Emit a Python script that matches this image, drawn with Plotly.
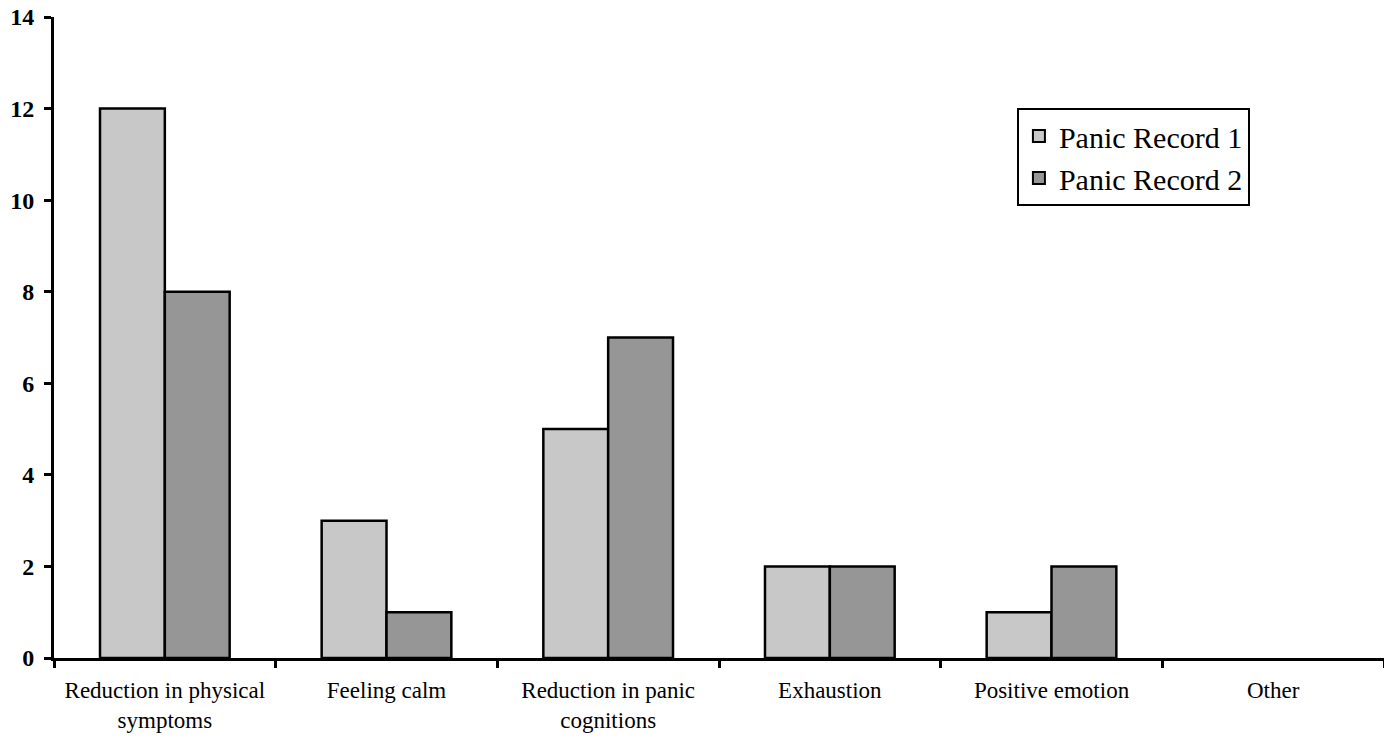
import plotly.graph_objects as go

categories = ["Reduction in physical<br>symptoms", "Feeling calm", "Reduction in panic<br>cognitions",
              "Exhaustion", "Positive emotion", "Other"]
record1 = [12, 3, 5, 2, 1, 0]
record2 = [8, 1, 7, 2, 2, 0]
yticks = [0, 2, 4, 6, 8, 10, 12, 14]

edge_widths = [2.5 if v > 0 else 0 for v in record1]
edge_widths2 = [2.5 if v > 0 else 0 for v in record2]

fig = go.Figure()
fig.add_trace(go.Bar(x=categories, y=record1, name="Panic Record 1",
                     marker=dict(color="#c8c8c8", line=dict(color="black", width=edge_widths))))
fig.add_trace(go.Bar(x=categories, y=record2, name="Panic Record 2",
                     marker=dict(color="#969696", line=dict(color="black", width=edge_widths2))))

fig.update_layout(
    width=1384, height=738,
    margin=dict(l=54, r=0, t=17, b=80),
    paper_bgcolor="white", plot_bgcolor="white",
    barmode="group", bargap=0.415, bargroupgap=0,
    font=dict(family="Liberation Serif", color="black"),
    legend=dict(x=0.724, y=0.858, xanchor="left", yanchor="top",
                bordercolor="black", borderwidth=2, bgcolor="white",
                font=dict(size=30, family="Liberation Serif"),
                tracegroupgap=0, itemsizing="constant"),
    showlegend=True,
)
fig.update_xaxes(showline=True, linecolor="black", linewidth=3, automargin=False,
                 ticks="outside", tickson="boundaries", ticklen=7, tickwidth=3, tickcolor="black",
                 ticklabelstandoff=9, ticklabeloverflow="allow",
                 tickfont=dict(size=23, family="Liberation Serif"), showgrid=False)
fig.update_yaxes(range=[0, 14], tickvals=yticks, showline=True, linecolor="black", linewidth=3,
                 automargin=False, ticklabelstandoff=5, ticklabeloverflow="allow",
                 ticks="outside", ticklen=7, tickwidth=3, tickcolor="black",
                 tickfont=dict(size=24, family="Liberation Serif", weight="bold"),
                 showgrid=False, zeroline=False)

fig.write_html("out.html", config={"displayModeBar": False},
               post_script="document.body.style.margin='0';document.body.style.overflow='hidden';")
